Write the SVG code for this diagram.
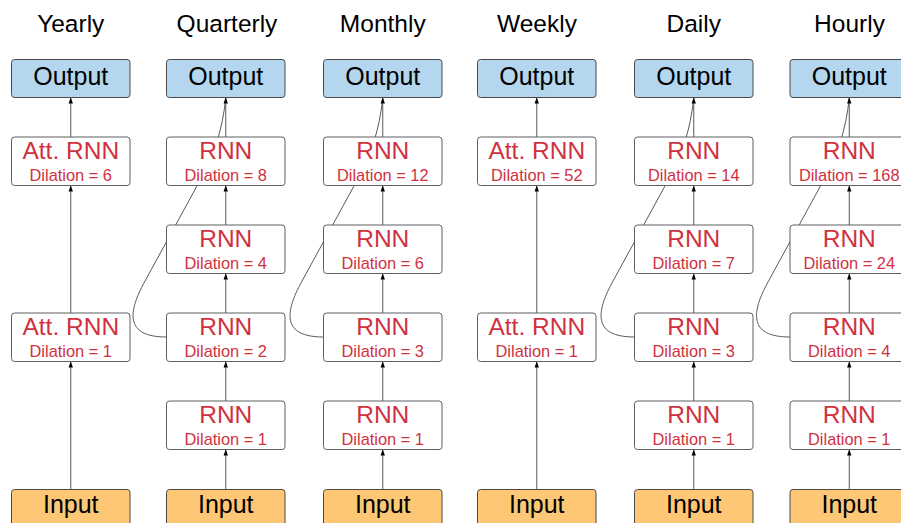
<svg xmlns="http://www.w3.org/2000/svg" width="901" height="523" viewBox="0 0 901 523">
<defs>
<style>
.t{font-family:"Liberation Sans",Arial,sans-serif;text-anchor:middle}
.title{font-size:24.5px;fill:#000}
.io{font-size:25px;fill:#000}
.rn{font-size:24.5px;fill:#d0313f}
.dl{font-size:16.4px;fill:#d0313f}
.box{fill:#fff;stroke:#5f5f5f;stroke-width:1}
.out{fill:#b4d6ef;stroke:#4a4a4a;stroke-width:1}
.in{fill:#fec776;stroke:#4a4a4a;stroke-width:1}
.c{fill:none;stroke:#5a5a5a;stroke-width:1}
.a{marker-end:url(#ah)}
</style>
<marker id="ah" viewBox="0 0 6 6" refX="6" refY="3" markerWidth="6" markerHeight="6" markerUnits="userSpaceOnUse" orient="auto">
<path d="M0,0.8 L6,3 L0,5.2 z" fill="#000"/>
</marker>
</defs>
<rect width="901" height="523" fill="#fff"/>

<g id="titles">
<text class="t title" x="70.75" y="32">Yearly</text>
<text class="t title" x="227" y="32">Quarterly</text>
<text class="t title" x="382.75" y="32">Monthly</text>
<text class="t title" x="537" y="32">Weekly</text>
<text class="t title" x="693.75" y="32">Daily</text>
<text class="t title" x="849.5" y="32">Hourly</text>
</g>

<g id="connectors">
<!-- Yearly -->
<path class="c a" d="M70.75,489.5 V361.5"/>
<path class="c a" d="M70.75,313 V185.5"/>
<path class="c a" d="M70.75,137 V97.5"/>
<!-- Quarterly -->
<path class="c" transform="translate(166.5,0)" d="M0,337 C-42,337 -38.4,312 -22,282 L37,174 C47,155 56,130 59.25,98"/>
<path class="c a" d="M225.75,489.5 V449.5"/>
<path class="c a" d="M225.75,401 V361.5"/>
<path class="c a" d="M225.75,313 V273.5"/>
<path class="c a" d="M225.75,225 V185.5"/>
<path class="c a" d="M225.75,137 V97.5"/>
<!-- Monthly -->
<path class="c" transform="translate(323.5,0)" d="M0,337 C-42,337 -38.4,312 -22,282 L37,174 C47,155 56,130 59.25,98"/>
<path class="c a" d="M382.75,489.5 V449.5"/>
<path class="c a" d="M382.75,401 V361.5"/>
<path class="c a" d="M382.75,313 V273.5"/>
<path class="c a" d="M382.75,225 V185.5"/>
<path class="c a" d="M382.75,137 V97.5"/>
<!-- Weekly -->
<path class="c a" d="M536.75,489.5 V361.5"/>
<path class="c a" d="M536.75,313 V185.5"/>
<path class="c a" d="M536.75,137 V97.5"/>
<!-- Daily -->
<path class="c" transform="translate(634.5,0)" d="M0,337 C-42,337 -38.4,312 -22,282 L37,174 C47,155 56,130 59.25,98"/>
<path class="c a" d="M693.75,489.5 V449.5"/>
<path class="c a" d="M693.75,401 V361.5"/>
<path class="c a" d="M693.75,313 V273.5"/>
<path class="c a" d="M693.75,225 V185.5"/>
<path class="c a" d="M693.75,137 V97.5"/>
<!-- Hourly -->
<path class="c" transform="translate(790,0)" d="M0,337 C-42,337 -38.4,312 -22,282 L37,174 C47,155 56,130 59.25,98"/>
<path class="c a" d="M849.25,489.5 V449.5"/>
<path class="c a" d="M849.25,401 V361.5"/>
<path class="c a" d="M849.25,313 V273.5"/>
<path class="c a" d="M849.25,225 V185.5"/>
<path class="c a" d="M849.25,137 V97.5"/>
</g>

<!-- Yearly -->
<g id="y-out"><rect class="out" x="11.5" y="59.5" width="118.5" height="38" rx="3"/><text class="t io" x="70.75" y="84.5">Output</text></g>
<g id="y-att6"><rect class="box" x="11.5" y="137" width="118.5" height="48.5" rx="3"/><text class="t rn" x="70.75" y="158.5">Att. RNN</text><text class="t dl" x="70.75" y="181.3">Dilation = 6</text></g>
<g id="y-att1"><rect class="box" x="11.5" y="313" width="118.5" height="48.5" rx="3"/><text class="t rn" x="70.75" y="334.5">Att. RNN</text><text class="t dl" x="70.75" y="357.3">Dilation = 1</text></g>
<g id="y-in"><rect class="in" x="11.5" y="489.5" width="118.5" height="40" rx="3"/><text class="t io" x="70.75" y="512.5">Input</text></g>

<!-- Quarterly -->
<g id="q-out"><rect class="out" x="166.5" y="59.5" width="118.5" height="38" rx="3"/><text class="t io" x="225.75" y="84.5">Output</text></g>
<g id="q-8"><rect class="box" x="166.5" y="137" width="118.5" height="48.5" rx="3"/><text class="t rn" x="225.75" y="158.5">RNN</text><text class="t dl" x="225.75" y="181.3">Dilation = 8</text></g>
<g id="q-4"><rect class="box" x="166.5" y="225" width="118.5" height="48.5" rx="3"/><text class="t rn" x="225.75" y="246.5">RNN</text><text class="t dl" x="225.75" y="269.3">Dilation = 4</text></g>
<g id="q-2"><rect class="box" x="166.5" y="313" width="118.5" height="48.5" rx="3"/><text class="t rn" x="225.75" y="334.5">RNN</text><text class="t dl" x="225.75" y="357.3">Dilation = 2</text></g>
<g id="q-1"><rect class="box" x="166.5" y="401" width="118.5" height="48.5" rx="3"/><text class="t rn" x="225.75" y="422.5">RNN</text><text class="t dl" x="225.75" y="445.3">Dilation = 1</text></g>
<g id="q-in"><rect class="in" x="166.5" y="489.5" width="118.5" height="40" rx="3"/><text class="t io" x="225.75" y="512.5">Input</text></g>

<!-- Monthly -->
<g id="m-out"><rect class="out" x="323.5" y="59.5" width="118.5" height="38" rx="3"/><text class="t io" x="382.75" y="84.5">Output</text></g>
<g id="m-12"><rect class="box" x="323.5" y="137" width="118.5" height="48.5" rx="3"/><text class="t rn" x="382.75" y="158.5">RNN</text><text class="t dl" x="382.75" y="181.3">Dilation = 12</text></g>
<g id="m-6"><rect class="box" x="323.5" y="225" width="118.5" height="48.5" rx="3"/><text class="t rn" x="382.75" y="246.5">RNN</text><text class="t dl" x="382.75" y="269.3">Dilation = 6</text></g>
<g id="m-3"><rect class="box" x="323.5" y="313" width="118.5" height="48.5" rx="3"/><text class="t rn" x="382.75" y="334.5">RNN</text><text class="t dl" x="382.75" y="357.3">Dilation = 3</text></g>
<g id="m-1"><rect class="box" x="323.5" y="401" width="118.5" height="48.5" rx="3"/><text class="t rn" x="382.75" y="422.5">RNN</text><text class="t dl" x="382.75" y="445.3">Dilation = 1</text></g>
<g id="m-in"><rect class="in" x="323.5" y="489.5" width="118.5" height="40" rx="3"/><text class="t io" x="382.75" y="512.5">Input</text></g>

<!-- Weekly -->
<g id="w-out"><rect class="out" x="477.5" y="59.5" width="118.5" height="38" rx="3"/><text class="t io" x="536.75" y="84.5">Output</text></g>
<g id="w-att52"><rect class="box" x="477.5" y="137" width="118.5" height="48.5" rx="3"/><text class="t rn" x="536.75" y="158.5">Att. RNN</text><text class="t dl" x="536.75" y="181.3">Dilation = 52</text></g>
<g id="w-att1"><rect class="box" x="477.5" y="313" width="118.5" height="48.5" rx="3"/><text class="t rn" x="536.75" y="334.5">Att. RNN</text><text class="t dl" x="536.75" y="357.3">Dilation = 1</text></g>
<g id="w-in"><rect class="in" x="477.5" y="489.5" width="118.5" height="40" rx="3"/><text class="t io" x="536.75" y="512.5">Input</text></g>

<!-- Daily -->
<g id="d-out"><rect class="out" x="634.5" y="59.5" width="118.5" height="38" rx="3"/><text class="t io" x="693.75" y="84.5">Output</text></g>
<g id="d-14"><rect class="box" x="634.5" y="137" width="118.5" height="48.5" rx="3"/><text class="t rn" x="693.75" y="158.5">RNN</text><text class="t dl" x="693.75" y="181.3">Dilation = 14</text></g>
<g id="d-7"><rect class="box" x="634.5" y="225" width="118.5" height="48.5" rx="3"/><text class="t rn" x="693.75" y="246.5">RNN</text><text class="t dl" x="693.75" y="269.3">Dilation = 7</text></g>
<g id="d-3"><rect class="box" x="634.5" y="313" width="118.5" height="48.5" rx="3"/><text class="t rn" x="693.75" y="334.5">RNN</text><text class="t dl" x="693.75" y="357.3">Dilation = 3</text></g>
<g id="d-1"><rect class="box" x="634.5" y="401" width="118.5" height="48.5" rx="3"/><text class="t rn" x="693.75" y="422.5">RNN</text><text class="t dl" x="693.75" y="445.3">Dilation = 1</text></g>
<g id="d-in"><rect class="in" x="634.5" y="489.5" width="118.5" height="40" rx="3"/><text class="t io" x="693.75" y="512.5">Input</text></g>

<!-- Hourly -->
<g id="h-out"><rect class="out" x="790" y="59.5" width="118.5" height="38" rx="3"/><text class="t io" x="849.25" y="84.5">Output</text></g>
<g id="h-168"><rect class="box" x="790" y="137" width="118.5" height="48.5" rx="3"/><text class="t rn" x="849.25" y="158.5">RNN</text><text class="t dl" x="849.25" y="181.3">Dilation = 168</text></g>
<g id="h-24"><rect class="box" x="790" y="225" width="118.5" height="48.5" rx="3"/><text class="t rn" x="849.25" y="246.5">RNN</text><text class="t dl" x="849.25" y="269.3">Dilation = 24</text></g>
<g id="h-4"><rect class="box" x="790" y="313" width="118.5" height="48.5" rx="3"/><text class="t rn" x="849.25" y="334.5">RNN</text><text class="t dl" x="849.25" y="357.3">Dilation = 4</text></g>
<g id="h-1"><rect class="box" x="790" y="401" width="118.5" height="48.5" rx="3"/><text class="t rn" x="849.25" y="422.5">RNN</text><text class="t dl" x="849.25" y="445.3">Dilation = 1</text></g>
<g id="h-in"><rect class="in" x="790" y="489.5" width="118.5" height="40" rx="3"/><text class="t io" x="849.25" y="512.5">Input</text></g>
</svg>
